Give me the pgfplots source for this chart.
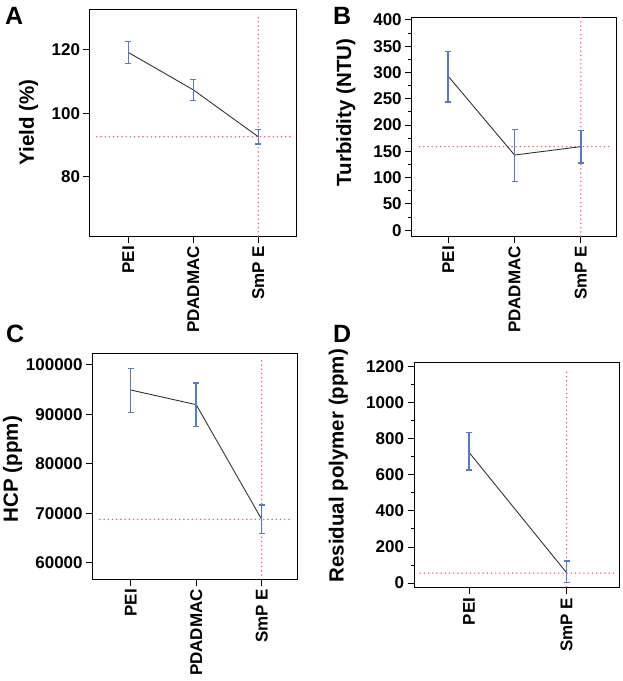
\documentclass[border=0pt]{standalone}
\usepackage{pgfplots}
\pgfplotsset{compat=1.18}
\usepackage{fontspec}
\setmainfont{Liberation Sans}
\definecolor{errblue}{RGB}{90,120,200}
\definecolor{refred}{RGB}{238,100,120}
\begin{document}
\begin{tikzpicture}
\useasboundingbox (0pt,0pt) rectangle (623pt,-681pt);
\pgfplotsset{
 panel/.style={scale only axis, axis line style={line width=1pt},
  tick align=outside, major tick length=6.5pt, minor tick length=3.5pt,
  tick style={black, line width=0.9pt},
  x tick label style={rotate=90, anchor=east, font=\bfseries\fontsize{17}{17}\selectfont},
  y tick label style={font=\bfseries\fontsize{17}{17}\selectfont},
  /pgf/number format/assume math mode=true, /pgf/number format/fixed,
  /pgf/number format/1000 sep={},
  scaled y ticks=false, xtick pos=bottom, ytick pos=left,
  ylabel style={font=\bfseries\fontsize{20.5}{20.5}\selectfont, anchor=center}},
 refline/.style={refred, line width=1.7pt, line cap=round, dash pattern=on 0pt off 4.2pt, forget plot},
 dataline/.style={black!80, line width=0.9pt, mark=none,
  error bars/.cd, y dir=both, y explicit,
  error bar style={errblue, line width=1.4pt},
  error mark options={errblue, rotate=90, mark size=3pt, line width=1.2pt}}
}
% Panel A
\begin{axis}[panel, at={(90pt,-236pt)}, anchor=south west, width=206pt, height=227pt,
  xmin=-0.59, xmax=2.58, ymin=61.3, ymax=132.9,
  xtick={0,1,2}, xticklabels={PEI,PDADMAC,SmP E},
  ytick={80,100,120}, ylabel={Yield (\%)},
  ylabel style={at={(axis description cs:-0.298,0.5)}}]
\addplot[refline] coordinates {(-0.486,92.6) (2.52,92.6)};
\addplot[refline] coordinates {(2,61.3) (2,130.8)};
\addplot[dataline] table[x=x,y=y,y error plus=ep,y error minus=em] {
x y ep em
0 119.2 3.4 3.4
1 107.4 3.3 3.3
2 92.6 2.4 2.3
};
\end{axis}
% Panel B
\begin{axis}[panel, at={(411.7pt,-236pt)}, anchor=south west, width=204.3pt, height=218.7pt,
  xmin=-0.55, xmax=2.53, ymin=-11, ymax=405,
  xtick={0,1,2}, xticklabels={PEI,PDADMAC,SmP E},
  ytick={0,50,...,400}, minor y tick num=1, ylabel={Turbidity (NTU)},
  ylabel style={at={(axis description cs:-0.322,0.565)}}]
\addplot[refline] coordinates {(-0.43,159) (2.47,159)};
\addplot[refline] coordinates {(2,-11) (2,405)};
\addplot[dataline] table[x=x,y=y,y error plus=ep,y error minus=em] {
x y ep em
0 293 47 49
1 143 49 50
2 159 30 31
};
\end{axis}
% Panel C
\begin{axis}[panel, at={(92.7pt,-579pt)}, anchor=south west, width=205pt, height=225.7pt,
  xmin=-0.58, xmax=2.55, ymin=56700, ymax=102290,
  xtick={0,1,2}, xticklabels={PEI,PDADMAC,SmP E},
  ytick={60000,70000,80000,90000,100000}, ylabel={HCP (ppm)},
  ylabel style={at={(axis description cs:-0.391,0.487)}}]
\addplot[refline] coordinates {(-0.47,68750) (2.47,68750)};
\addplot[refline] coordinates {(2,57500) (2,100900)};
\addplot[dataline] table[x=x,y=y,y error plus=ep,y error minus=em] {
x y ep em
0 94880 4380 4510
1 91920 4380 4380
2 68750 2900 2820
};
\end{axis}
% Panel D
\begin{axis}[panel, at={(414pt,-587.7pt)}, anchor=south west, width=205.3pt, height=225.4pt,
  xmin=-0.563, xmax=1.54, ymin=-26, ymax=1224,
  xtick={0,1}, xticklabels={PEI,SmP E},
  ytick={0,200,...,1200}, minor y tick num=1, ylabel={Residual polymer (ppm)},
  ylabel style={at={(axis description cs:-0.369,0.541)}}]
\addplot[refline] coordinates {(-0.50,55) (1.49,55)};
\addplot[refline] coordinates {(1,-20) (1,1190)};
\addplot[dataline] table[x=x,y=y,y error plus=ep,y error minus=em] {
x y ep em
0 725 109 98
1 57 65 53
};
\end{axis}
\node[anchor=north west, inner sep=0, font=\bfseries\fontsize{25}{25}\selectfont] at (5pt,-7pt) {A};
\node[anchor=north west, inner sep=0, font=\bfseries\fontsize{25}{25}\selectfont] at (333pt,-7pt) {B};
\node[anchor=north west, inner sep=0, font=\bfseries\fontsize{25}{25}\selectfont] at (6pt,-325pt) {C};
\node[anchor=north west, inner sep=0, font=\bfseries\fontsize{25}{25}\selectfont] at (333pt,-325pt) {D};
\end{tikzpicture}
\end{document}
